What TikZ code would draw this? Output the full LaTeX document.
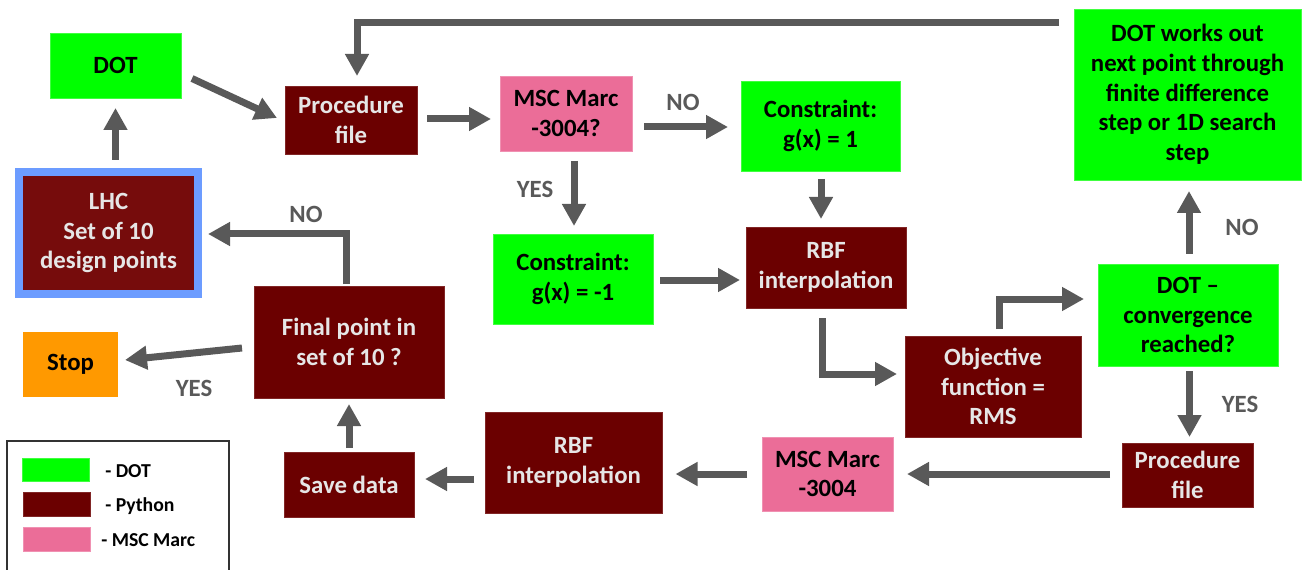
\documentclass[tikz,border=0pt]{standalone}
\usepackage{fontspec}
\setmainfont{Carlito}
\usetikzlibrary{arrows.meta,calc}
\definecolor{dgreen}{HTML}{00FF00}
\definecolor{pyred}{HTML}{6B0000}
\definecolor{lhcred}{HTML}{760C0C}
\definecolor{lhcblue}{HTML}{6C9CFF}
\definecolor{mscpink}{HTML}{EB6D98}
\definecolor{stoporange}{HTML}{FF9900}
\definecolor{arrgray}{HTML}{595959}
\definecolor{lighttext}{HTML}{E6E6E6}
\begin{document}
\begin{tikzpicture}[x=0.75pt,y=-0.75pt,
  sz/.style n args={2}{minimum width={#1*0.75pt}, minimum height={#2*0.75pt}},
  box/.style={rectangle, inner sep=0pt, outer sep=0pt, align=center,
    font=\fontsize{18.6}{22.3}\selectfont\bfseries},
  dotbox/.style={box, fill=dgreen, draw=dgreen!75!white, line width=0.6pt, text=black},
  pybox/.style={box, fill=pyred, draw=pyred!85!white, line width=0.6pt, text=lighttext},
  lhcbox/.style={box, fill=lhcred, draw=lhcblue, line width=6pt, text=lighttext},
  mscbox/.style={box, fill=mscpink, draw=mscpink!75!white, line width=0.6pt, text=black},
  stopbox/.style={box, fill=stoporange, text=black},
  arr/.style={draw=arrgray, line width=5.25pt, -{Triangle[length=16.5pt,width=17pt]}},
  lbl/.style={text=arrgray, inner sep=0pt, font=\fontsize{18.6}{22}\selectfont\bfseries},
  legtext/.style={text=black, inner sep=0pt, font=\fontsize{14.8}{18}\selectfont\bfseries}
]
\useasboundingbox (0,0) rectangle (1302,570);

% boxes
\node[dotbox, sz={131}{65}] (dot) at (115.5,65.5) {DOT};
\node[pybox, sz={132}{68}] (proc1) at (351,120) {Procedure\\file};
\node[lhcbox, sz={179}{122}] (lhc) at (108.5,233) {LHC\\Set of 10\\design points};
\node[mscbox, sz={132}{75}] (msc1) at (566,113.5) {MSC Marc\\-3004?};
\node[dotbox, sz={159}{90}] (con1) at (820.5,126) {Constraint:\\g(x) = 1};
\node[dotbox, sz={160}{90}] (con2) at (573,279) {Constraint:\\g(x) = -1};
\node[pybox, sz={160}{81}] (rbf1) at (826,267.5) {RBF\\interpolation};
\node[dotbox, sz={227}{171}] (dotwork) at (1187.5,94.5) {DOT works out\\next point through\\finite difference\\step or 1D search\\step};
\node[dotbox, sz={180}{102}] (dotconv) at (1188,315) {DOT –\\convergence\\reached?};
\node[pybox, sz={176}{101}] (obj) at (993,386.5) {Objective\\function =\\RMS};
\node[pybox, sz={131}{64}] (proc2) at (1187.5,475) {Procedure\\file};
\node[mscbox, sz={131}{74}] (msc2) at (827.5,474) {MSC Marc\\-3004};
\node[pybox, sz={177}{101}] (rbf2) at (573.5,462.5) {RBF\\interpolation};
\node[pybox, sz={130}{65}] (save) at (349,484.5) {Save data};
\node[pybox, sz={190}{112}] (final) at (349,342) {Final point in\\set of 10 ?};
\node[stopbox, sz={95}{65}] (stop) at (70.5,364.5) {Stop};

% legend
\draw[black!80, line width=0.8pt] (7,570) -- (7,441) -- (229,441) -- (229,570);
\node[dotbox, sz={67}{23}] (lgdot) at (55.5,469.5) {};
\node[pybox, sz={67}{24}] (lgpy) at (56.5,504) {};
\node[mscbox, sz={67}{24}] (lgmsc) at (56.5,539) {};
\node[legtext, anchor=west] (lgdott) at (105,471) {- DOT};
\node[legtext, anchor=west] (lgpyt) at (105,506) {- Python};
\node[legtext, anchor=west] (lgmsct) at (101,540) {- MSC Marc};

% labels
\node[lbl] (no1) at (683,102) {NO};
\node[lbl] (yes1) at (535,189) {YES};
\node[lbl] (no2) at (1242,227) {NO};
\node[lbl] (yes2) at (1240,404) {YES};
\node[lbl] (no3) at (306,214) {NO};
\node[lbl] (yes3) at (194,388) {YES};

% connectors
\coordinate (fb) at (1059,23);
\draw[arr] (fb) -| ($(proc1.north)+(6,-10)$);
\draw[arr] ($(dot.east)+(11,13)$) -- ($(proc1.west)+(-8,-2)$);
\draw[arr] ($(lhc.north -| dot.south)+(0,-12)$) -- ($(dot.south)+(0,10)$);
\draw[arr] ($(proc1.east)+(10,-1)$) -- ($(msc1.west |- proc1.east)+(-9,-1)$);
\draw[arr] ($(msc1.east)+(12,13.5)$) -- ($(con1.west)+(-13,1)$);
\draw[arr] ($(msc1.south)+(8,10)$) -- ($(con2.north)+(1,-8)$);
\draw[arr] ($(con1.south)+(0.5,8)$) -- ($(rbf1.north)+(-5,-8)$);
\draw[arr] ($(con2.east)+(7,1)$) -- ($(rbf1.west)+(-6,12.5)$);
\draw[arr] ($(rbf1.south)+(-3.5,10)$) |- ($(obj.west)+(-8,-12.5)$);
\draw[arr] ($(obj.north)+(6,-7)$) |- ($(dotconv.west)+(-14,-16)$);
\draw[arr] ($(dotconv.north)+(1,-10)$) -- ($(dotwork.south)+(1.5,11)$);
\draw[arr] ($(dotconv.south)+(1.5,5)$) -- ($(proc2.north)+(2,-6)$);
\draw[arr] ($(proc2.west)+(-12,-1)$) -- ($(msc2.east)+(14,0)$);
\draw[arr] ($(msc2.west)+(-15,0)$) -- ($(rbf2.east)+(13.5,11.5)$);
\draw[arr] ($(rbf2.west)+(-11,16.5)$) -- ($(save.east)+(11,-5.5)$);
\draw[arr] ($(save.north)+(0,-4)$) -- ($(final.south)+(0,6)$);
\draw[arr] ($(final.north)+(-3,-2)$) |- ($(lhc.east)+(10,1)$);
\draw[arr] ($(final.west)+(-12,6)$) -- ($(stop.east)+(7,-4.5)$);
\end{tikzpicture}
\end{document}
